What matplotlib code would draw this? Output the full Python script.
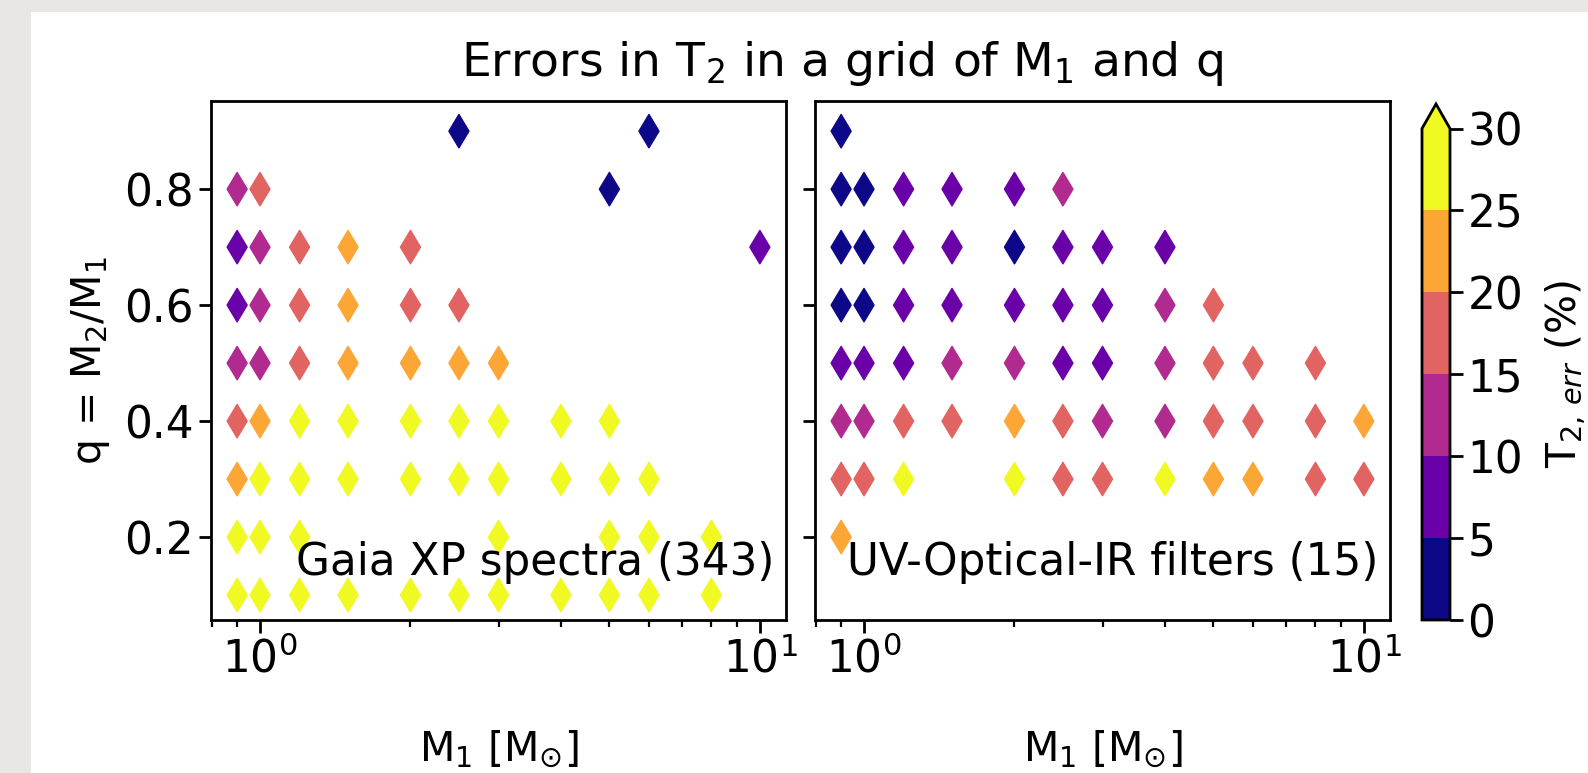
import numpy as np
import matplotlib
matplotlib.use("Agg")
import matplotlib.pyplot as plt
from matplotlib.colors import BoundaryNorm
from matplotlib.patches import Rectangle

# Gaia XP spectra grid: primary mass, mass ratio, T2 error (%)
gaia_m1 = [2.5, 6.0,
           0.9, 1.0, 5.0,
           0.9, 1.0, 1.2, 1.5, 2.0, 10.0,
           0.9, 1.0, 1.2, 1.5, 2.0, 2.5,
           0.9, 1.0, 1.2, 1.5, 2.0, 2.5, 3.0,
           0.9, 1.0, 1.2, 1.5, 2.0, 2.5, 3.0, 4.0, 5.0,
           0.9, 1.0, 1.2, 1.5, 2.0, 2.5, 3.0, 4.0, 5.0, 6.0,
           0.9, 1.0, 1.2, 3.0, 5.0, 6.0, 8.0,
           0.9, 1.0, 1.2, 1.5, 2.0, 2.5, 3.0, 4.0, 5.0, 6.0, 8.0]
gaia_q = [0.9, 0.9,
          0.8, 0.8, 0.8,
          0.7, 0.7, 0.7, 0.7, 0.7, 0.7,
          0.6, 0.6, 0.6, 0.6, 0.6, 0.6,
          0.5, 0.5, 0.5, 0.5, 0.5, 0.5, 0.5,
          0.4, 0.4, 0.4, 0.4, 0.4, 0.4, 0.4, 0.4, 0.4,
          0.3, 0.3, 0.3, 0.3, 0.3, 0.3, 0.3, 0.3, 0.3, 0.3,
          0.2, 0.2, 0.2, 0.2, 0.2, 0.2, 0.2,
          0.1, 0.1, 0.1, 0.1, 0.1, 0.1, 0.1, 0.1, 0.1, 0.1, 0.1]
gaia_err = [3.1, 2.4,
            12.6, 16.2, 3.8,
            8.7, 11.3, 17.5, 21.4, 18.9, 7.2,
            7.9, 12.1, 16.8, 22.6, 17.3, 19.1,
            13.4, 14.2, 18.2, 21.9, 23.5, 24.1, 22.8,
            17.9, 20.6, 27.0, 28.4, 29.1, 31.5, 33.0, 35.2, 38.0,
            23.2, 26.1, 29.5, 31.2, 34.6, 36.8, 39.0, 41.3, 44.7, 47.5,
            32.0, 35.5, 38.2, 45.1, 52.3, 56.0, 61.4,
            40.2, 42.8, 45.5, 48.3, 53.1, 57.6, 60.9, 66.2, 70.4, 74.1, 80.5]

# UV-Optical-IR photometry grid
filt_m1 = [0.9,
           0.9, 1.0, 1.2, 1.5, 2.0, 2.5,
           0.9, 1.0, 1.2, 1.5, 2.0, 2.5, 3.0, 4.0,
           0.9, 1.0, 1.2, 1.5, 2.0, 2.5, 3.0, 4.0, 5.0,
           0.9, 1.0, 1.2, 1.5, 2.0, 2.5, 3.0, 4.0, 5.0, 6.0, 8.0,
           0.9, 1.0, 1.2, 1.5, 2.0, 2.5, 3.0, 4.0, 5.0, 6.0, 8.0, 10.0,
           0.9, 1.0, 1.2, 2.0, 2.5, 3.0, 4.0, 5.0, 6.0, 8.0, 10.0,
           0.9]
filt_q = [0.9,
          0.8, 0.8, 0.8, 0.8, 0.8, 0.8,
          0.7, 0.7, 0.7, 0.7, 0.7, 0.7, 0.7, 0.7,
          0.6, 0.6, 0.6, 0.6, 0.6, 0.6, 0.6, 0.6, 0.6,
          0.5, 0.5, 0.5, 0.5, 0.5, 0.5, 0.5, 0.5, 0.5, 0.5, 0.5,
          0.4, 0.4, 0.4, 0.4, 0.4, 0.4, 0.4, 0.4, 0.4, 0.4, 0.4, 0.4,
          0.3, 0.3, 0.3, 0.3, 0.3, 0.3, 0.3, 0.3, 0.3, 0.3, 0.3,
          0.2]
filt_err = [2.8,
            3.5, 4.1, 6.8, 7.4, 8.1, 11.2,
            3.2, 3.9, 6.5, 7.7, 4.6, 8.3, 8.9, 9.2,
            2.9, 4.4, 7.1, 7.9, 8.6, 8.8, 9.4, 11.8, 15.6,
            6.2, 7.3, 8.0, 10.9, 12.3, 9.1, 9.6, 13.1, 16.4, 17.2, 18.1,
            12.4, 13.6, 15.9, 16.7, 20.8, 17.6, 14.2, 13.9, 17.9, 18.4, 19.2, 21.5,
            16.1, 17.0, 26.3, 27.9, 18.8, 19.4, 25.6, 22.1, 23.4, 18.6, 19.7,
            21.2]

levels = [0, 5, 10, 15, 20, 25, 30]
cmap = plt.get_cmap("plasma", len(levels) - 1)
norm = BoundaryNorm(levels, cmap.N)

plt.rcParams["font.size"] = 31.5
plt.rcParams["axes.labelsize"] = 29.5

W, H = 1588, 773
fig = plt.figure(figsize=(W / 100, H / 100), dpi=100)
fig.patch.set_facecolor("#e8e7e3")
# white card
fig.patches.append(Rectangle((31 / W, 0), 1, 1 - 12 / H, transform=fig.transFigure,
                             facecolor="white", edgecolor="none", zorder=-10))

ax1 = fig.add_axes([211 / W, 1 - 620 / H, 575 / W, 519 / H])
ax2 = fig.add_axes([815 / W, 1 - 620 / H, 575 / W, 519 / H], sharey=ax1)
cax = fig.add_axes([1422 / W, 1 - 620 / H, 28 / W, 516 / H])

sc = ax1.scatter(gaia_m1, gaia_q, c=gaia_err, cmap=cmap, norm=norm, marker="d", s=290)
ax2.scatter(filt_m1, filt_q, c=filt_err, cmap=cmap, norm=norm, marker="d", s=290)

for ax, label in [(ax1, "Gaia XP spectra (343)"), (ax2, "UV-Optical-IR filters (15)")]:
    ax.set_xscale("log")
    ax.set_xlabel(r"M$_1$ [M$_{\odot}$]", labelpad=34)
    ax.text(0.98, 0.11, label, transform=ax.transAxes, ha="right", va="center")
    for s in ax.spines.values():
        s.set_linewidth(2)
    ax.tick_params(width=2, length=9)
    ax.tick_params(which="minor", width=1.6, length=5)

ax1.set_ylabel(r"q = M$_2$/M$_1$", labelpad=9)
ax1.set_yticks([0.2, 0.4, 0.6, 0.8])
ax1.set_ylim(0.057, 0.952)
plt.setp(ax2.get_yticklabels(), visible=False)

cb = fig.colorbar(sc, cax=cax, extend="max", ticks=levels)
cb.set_label(r"T$_{2,\,err}$ (%)", fontsize=29.5, labelpad=15)
cb.outline.set_linewidth(2)
cax.tick_params(width=2, length=9)

fig.text(0.530, 0.918, r"Errors in T$_2$ in a grid of M$_1$ and q",
         ha="center", va="center", fontsize=34)

fig.savefig("out.png", dpi=100, facecolor=fig.get_facecolor())
